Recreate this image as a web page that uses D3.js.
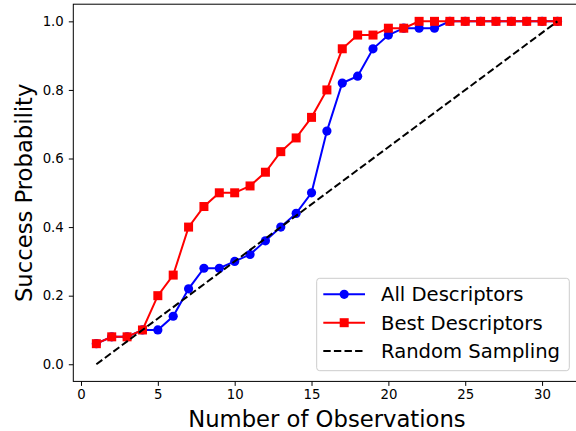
<!DOCTYPE html>
<html>
<head>
<meta charset="utf-8">
<script src="https://cdn.jsdelivr.net/npm/d3@7/dist/d3.min.js"></script>
<style>
  body { margin: 0; background: #fff; }
  svg { display: block; font-family: "DejaVu Sans", sans-serif; }
</style>
</head>
<body>
<div id="chart"></div>
<script>
// observations 1..31
const observations = d3.range(1, 32);
const allDescriptors = [0.06, 0.08, 0.08, 0.10, 0.10, 0.14, 0.22, 0.28, 0.28, 0.30,
  0.32, 0.36, 0.40, 0.44, 0.50, 0.68, 0.82, 0.84, 0.92, 0.96,
  0.98, 0.98, 0.98, 1.0, 1.0, 1.0, 1.0, 1.0, 1.0, 1.0, 1.0];
const bestDescriptors = [0.06, 0.08, 0.08, 0.10, 0.20, 0.26, 0.40, 0.46, 0.50, 0.50,
  0.52, 0.56, 0.62, 0.66, 0.72, 0.80, 0.92, 0.96, 0.96, 0.98,
  0.98, 1.0, 1.0, 1.0, 1.0, 1.0, 1.0, 1.0, 1.0, 1.0, 1.0];
const randomX = [1, 31];
const randomY = [0, 1];
const xTicks = [0, 5, 10, 15, 20, 25, 30];
const yTicks = [0, 0.2, 0.4, 0.6, 0.8, 1.0];
const legendLabels = ['All Descriptors', 'Best Descriptors', 'Random Sampling'];

const width = 576, height = 431;
const mLeft = 73.3, mRight = 580.5, mTop = 4.2, mBottom = 381.4;

const x = d3.scaleLinear().domain([-0.5, 32.5]).range([mLeft, mRight]);
const y = d3.scaleLinear().domain([-0.05, 1.05]).range([mBottom, mTop]);

const svg = d3.select('#chart').append('svg')
  .attr('width', width)
  .attr('height', height);

const line = d3.line().x(d => x(d[0])).y(d => y(d[1]));

// blue series
svg.append('path')
  .datum(observations.map((o, i) => [o, allDescriptors[i]]))
  .attr('d', line)
  .attr('fill', 'none')
  .attr('stroke', '#0000ff')
  .attr('stroke-width', 2);
svg.append('g')
  .selectAll('circle')
  .data(observations.map((o, i) => [o, allDescriptors[i]]))
  .join('circle')
    .attr('cx', d => x(d[0]))
    .attr('cy', d => y(d[1]))
    .attr('r', 4.6)
    .attr('fill', '#0000ff');

// red series
svg.append('path')
  .datum(observations.map((o, i) => [o, bestDescriptors[i]]))
  .attr('d', line)
  .attr('fill', 'none')
  .attr('stroke', '#ff0000')
  .attr('stroke-width', 2);
svg.append('g')
  .selectAll('rect')
  .data(observations.map((o, i) => [o, bestDescriptors[i]]))
  .join('rect')
    .attr('x', d => x(d[0]) - 4.5)
    .attr('y', d => y(d[1]) - 4.5)
    .attr('width', 9)
    .attr('height', 9)
    .attr('fill', '#ff0000');

// random sampling
svg.append('path')
  .datum(randomX.map((v, i) => [v, randomY[i]]))
  .attr('d', line)
  .attr('fill', 'none')
  .attr('stroke', '#000')
  .attr('stroke-width', 2)
  .attr('stroke-dasharray', '7.4,3.2');

// axes
const xAxis = svg.append('g')
  .attr('transform', `translate(0,${mBottom})`)
  .call(d3.axisBottom(x).tickValues(xTicks).tickSize(4.5).tickPadding(4).tickFormat(d3.format('d')));
const yAxis = svg.append('g')
  .attr('transform', `translate(${mLeft},0)`)
  .call(d3.axisLeft(y).tickValues(yTicks).tickSize(4.5).tickPadding(5).tickFormat(d3.format('.1f')));
[xAxis, yAxis].forEach(g => {
  g.select('.domain').remove();
  g.selectAll('line').attr('stroke', '#000').attr('stroke-width', 1);
  g.selectAll('text').attr('fill', '#000').attr('font-size', 13.3).attr('font-family', '"DejaVu Sans", sans-serif');
});

// spines (right one falls outside the picture)
svg.append('rect')
  .attr('x', mLeft).attr('y', mTop)
  .attr('width', mRight - mLeft).attr('height', mBottom - mTop)
  .attr('fill', 'none')
  .attr('stroke', '#000')
  .attr('stroke-width', 1);

svg.append('text')
  .attr('x', (mLeft + mRight) / 2)
  .attr('y', 426.7)
  .attr('text-anchor', 'middle')
  .attr('font-size', 22.7)
  .text('Number of Observations');

svg.append('text')
  .attr('transform', `translate(32,${(mTop + mBottom) / 2}) rotate(-90)`)
  .attr('text-anchor', 'middle')
  .attr('font-size', 22.7)
  .text('Success Probability');

// legend
const legend = svg.append('g');
legend.append('rect')
  .attr('x', 316.7).attr('y', 278.3)
  .attr('width', 252.6).attr('height', 92.4)
  .attr('rx', 3)
  .attr('fill', 'rgba(255,255,255,0.8)')
  .attr('stroke', '#cccccc')
  .attr('stroke-width', 1);

const rows = legend.selectAll('g.row')
  .data(legendLabels)
  .join('g')
    .attr('class', 'row')
    .attr('transform', (d, i) => `translate(0,${294.3 + i * 28.4})`);
rows.append('line')
  .attr('x1', 323.3).attr('x2', 365)
  .attr('stroke', (d, i) => ['#0000ff', '#ff0000', '#000'][i])
  .attr('stroke-width', 2)
  .attr('stroke-dasharray', (d, i) => i === 2 ? '7.4,3.2' : null);
rows.filter((d, i) => i === 0).append('circle')
  .attr('cx', 344.2).attr('r', 4.6).attr('fill', '#0000ff');
rows.filter((d, i) => i === 1).append('rect')
  .attr('x', 344.2 - 4.5).attr('y', -4.5).attr('width', 9).attr('height', 9).attr('fill', '#ff0000');
rows.append('text')
  .attr('x', 381)
  .attr('y', 6.9)
  .attr('font-size', 19.6)
  .text(d => d);
</script>
</body>
</html>
